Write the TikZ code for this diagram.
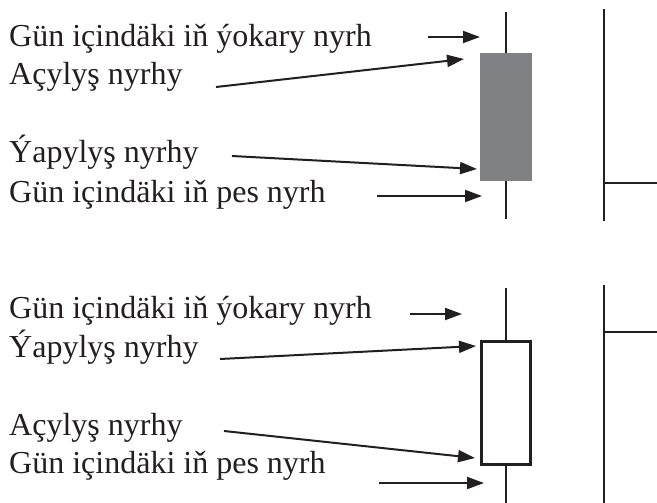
\documentclass[tikz,border=0pt]{standalone}
\usepackage{fontspec}
\setmainfont{Liberation Serif}
\usetikzlibrary{arrows.meta}
\definecolor{ink}{RGB}{35,31,32}
\definecolor{bodygray}{RGB}{128,129,133}

\begin{document}
\begin{tikzpicture}[x=1pt, y=-1pt, ink,
    lbl/.style={anchor=base west, inner sep=0pt, text=ink, font=\fontsize{32}{38}\selectfont},
    pointer/.style={line width=2pt, -{Triangle[length=17pt, width=12pt]}},
    wick/.style={line width=2pt},
    ]
    \useasboundingbox (0,0) rectangle (657,503);

    % top candle: falls, filled body
    \node[lbl] (hiA) at (9, 47) {Gün içindäki iň ýokary nyrh};
    \node[lbl] (opA) at (9, 85) {Açylyş nyrhy};
    \node[lbl] (clA) at (9, 163) {Ýapylyş nyrhy};
    \node[lbl] (loA) at (9, 202) {Gün içindäki iň pes nyrh};
    \node[fill=bodygray, minimum width=52, minimum height=128, inner sep=0pt] (bodyA) at (506, 117) {};
    \coordinate (topA) at (506, 12);
    \coordinate (botA) at (506, 219);
    \draw[wick] (bodyA.north) -- (topA);
    \draw[wick] (bodyA.south) -- (botA);
    \draw[wick] (604, 9) -- (604, 221);
    \draw[wick] (604, 183) -- (657, 183);
    \coordinate (hiA1) at (428, 37);  \coordinate (hiA2) at (480, 37);
    \coordinate (opA1) at (216, 87);  \coordinate (opA2) at (464, 59);
    \coordinate (clA1) at (232, 156); \coordinate (clA2) at (477, 169);
    \coordinate (loA1) at (377, 196); \coordinate (loA2) at (482, 196);
    \draw[pointer] (hiA1) -- (hiA2);
    \draw[pointer] (opA1) -- (opA2);
    \draw[pointer] (clA1) -- (clA2);
    \draw[pointer] (loA1) -- (loA2);

    % bottom candle: rises, hollow body
    \node[lbl] (hiB) at (9, 318) {Gün içindäki iň ýokary nyrh};
    \node[lbl] (clB) at (9, 357) {Ýapylyş nyrhy};
    \node[lbl] (opB) at (9, 435) {Açylyş nyrhy};
    \node[lbl] (loB) at (9, 473) {Gün içindäki iň pes nyrh};
    \node[draw=ink, line width=3pt, minimum width=49, minimum height=123, inner sep=0pt] (bodyB) at (506, 403) {};
    \coordinate (topB) at (506, 288);
    \coordinate (botB) at (506, 503);
    \draw[wick] (bodyB.north) -- (topB);
    \draw[wick] (bodyB.south) -- (botB);
    \draw[wick] (604, 285) -- (604, 503);
    \draw[wick] (604, 332) -- (657, 332);
    \coordinate (hiB1) at (410, 314); \coordinate (hiB2) at (462, 314);
    \coordinate (clB1) at (220, 359); \coordinate (clB2) at (476, 346);
    \coordinate (opB1) at (224, 431); \coordinate (opB2) at (475, 458);
    \coordinate (loB1) at (379, 483); \coordinate (loB2) at (484, 483);
    \draw[pointer] (hiB1) -- (hiB2);
    \draw[pointer] (clB1) -- (clB2);
    \draw[pointer] (opB1) -- (opB2);
    \draw[pointer] (loB1) -- (loB2);
\end{tikzpicture}
\end{document}
